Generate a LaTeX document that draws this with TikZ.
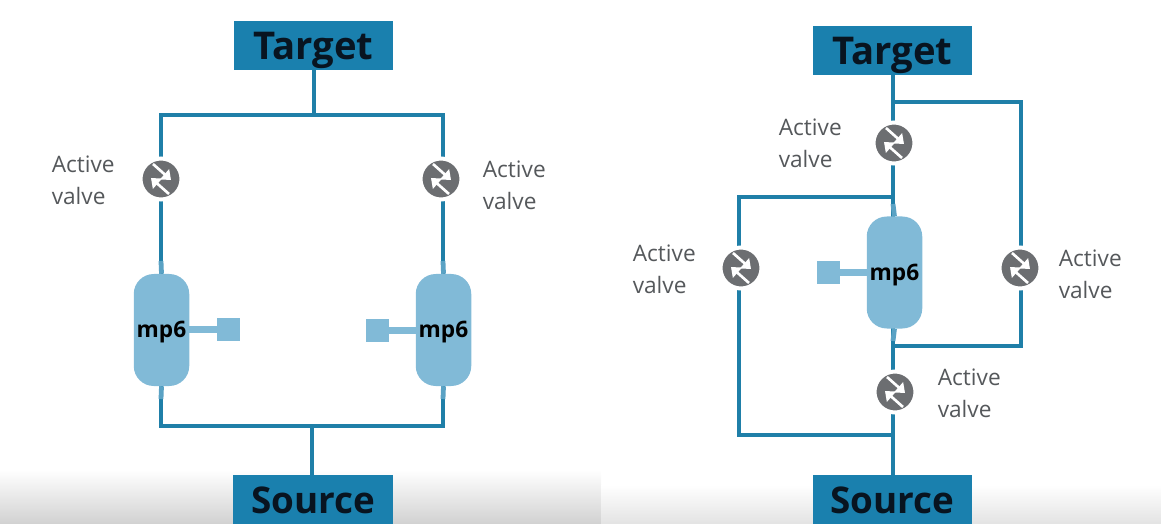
\documentclass[tikz,border=0pt]{standalone}
\usepackage{fontspec}
\setmainfont{Open Sans}
\usetikzlibrary{backgrounds,arrows.meta}
\definecolor{boxc}{HTML}{1A80AE}
\definecolor{linec}{HTML}{1F7FA8}
\definecolor{vesc}{HTML}{81BAD7}
\definecolor{valc}{HTML}{6C6E71}
\definecolor{inkc}{HTML}{081420}
\definecolor{labc}{HTML}{55585B}
\newcommand{\boxtext}[2][-10.8pt]{\raisebox{#1}[0pt][0pt]{#2}}
\newcommand{\vestext}[1]{\raisebox{-5.8pt}[0pt][0pt]{#1}}
\tikzset{
  endbox/.style={fill=boxc,minimum width=159.5*0.75pt,minimum height=49*0.75pt,inner sep=0pt,text=inkc,font=\fontsize{28.7}{30}\selectfont\bfseries},
  srcbox/.style={endbox,font=\fontsize{27.6}{30}\selectfont\bfseries},
  pipe/.style={draw=linec,line width=2.5pt,line join=miter},
  stub/.style={draw=vesc!60!linec,line width=3.6pt},
  arm/.style={draw=vesc,line width=5.2pt},
  vessel/.style={fill=vesc,rounded corners=15pt,minimum width=55.5*0.75pt,minimum height=112*0.75pt,inner sep=0pt,text=black,font=\fontsize{17}{18}\selectfont\bfseries},
  sq/.style={fill=vesc,minimum size=23*0.75pt,inner sep=0pt},
  valve/.style={circle,fill=valc,draw=white,line width=3pt,minimum size=41*0.75pt,inner sep=0pt,
    path picture={
      \begin{scope}[shift={(path picture bounding box.center)}]
        \draw[white,line width=2pt,-{Triangle[length=6.5pt,width=10pt]}] (-8,-15) -- (10,1);
        \draw[white,line width=2pt,-{Triangle[length=6.5pt,width=10pt]}] (8,15) -- (-10,-1);
      \end{scope}
    }},
  lab/.style={anchor=west,align=left,text=labc,inner sep=0pt,font=\fontsize{17}{24}\selectfont},
}
\begin{document}
\begin{tikzpicture}[x=0.75pt,y=-0.75pt]
\useasboundingbox (0,0) rectangle (1161,524);
% left panel nodes
\node[endbox] (tL) at (313.5,45.5) {\boxtext{Target}};
\node[srcbox] (sL) at (313,499) {\boxtext{Source}};
\node[valve] (v1) at (161,179) {};
\node[valve] (v2) at (441,179) {};
\node[vessel] (m1) at (161.5,330) {\vestext{mp6}};
\node[vessel] (m2) at (443.5,330) {\vestext{mp6}};
\node[sq] (q1) at (228.5,329.5) {};
\node[sq] (q2) at (377,330.5) {};
\coordinate (a1) at (314,115);
\coordinate (a2) at (161,115);
\coordinate (a3) at (443,115);
\coordinate (b1) at (312,426);
\coordinate (b2) at (161,426);
\coordinate (b3) at (443,426);
% right panel nodes
\node[endbox] (tR) at (892.5,50.5) {\boxtext{Target}};
\node[srcbox] (sR) at (892.5,499.5) {\boxtext{Source}};
\node[valve] (v3) at (894,143) {};
\node[valve] (v4) at (741,268) {};
\node[valve] (v5) at (1020,268) {};
\node[valve] (v6) at (895,392) {};
\node[vessel] (m3) at (894.5,272.5) {\vestext{mp6}};
\node[sq] (q3) at (828,272.5) {};
\coordinate (c1) at (893,102);
\coordinate (c2) at (1021,102);
\coordinate (c3) at (1021,346);
\coordinate (c4) at (893,346);
\coordinate (d1) at (893,197);
\coordinate (d2) at (739,197);
\coordinate (d3) at (739,435);
\coordinate (d4) at (893,435);
% labels
\node[lab] (l1) at (51.5,180) {Active\\valve};
\node[lab] (l2) at (482.5,185) {Active\\valve};
\node[lab] (l3) at (778.5,143) {Active\\valve};
\node[lab] (l4) at (632.5,269) {Active\\valve};
\node[lab] (l5) at (1058.5,274) {Active\\valve};
\node[lab] (l6) at (937.5,393) {Active\\valve};
\begin{pgfonlayer}{background}
  \shade[top color=white,bottom color=black!18] (0,470) rectangle (601,524);
  \shade[top color=white,bottom color=black!11] (601,485) rectangle (1161,524);
  % left pipes
  \draw[pipe] (a1 |- tL) -- (a1);
  \draw[pipe] (a2 |- m1) -- (a2) -- (a3) -- (a3 |- m2);
  \draw[pipe] (a2 |- m1) -- (b2) -- (b3) -- (a3 |- m2);
  \draw[pipe] (b1) -- (b1 |- sL);
  \draw[stub] (161,261) -- (m1.north);
  \draw[stub] (161,399) -- (m1.south);
  \draw[stub] (443,261) -- (m2.north);
  \draw[stub] (443,399) -- (m2.south);
  \draw[arm] (m1 |- q1) -- (q1);
  \draw[arm] (m2 |- q2) -- (q2);
  % right pipes
  \draw[pipe] (c1 |- tR) -- (c1) -- (d1) -- (d4) -- (d4 |- sR);
  \draw[pipe] (c1) -- (c2) -- (c3) -- (c4);
  \draw[pipe] (d1) -- (d2) -- (d3) -- (d4);
  \draw[stub] (893,204) -- (m3.north);
  \draw[stub] (893,341) -- (m3.south);
  \draw[arm] (m3 |- q3) -- (q3);
\end{pgfonlayer}
\end{tikzpicture}
\end{document}
